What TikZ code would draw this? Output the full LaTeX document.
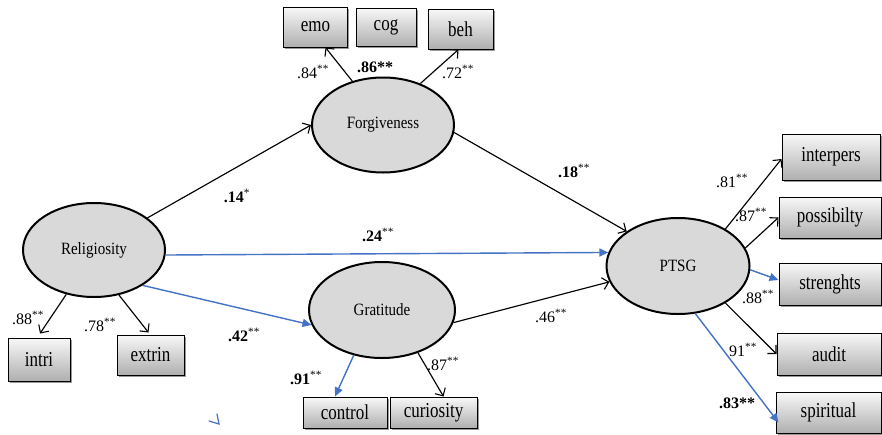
\documentclass[tikz,border=0pt]{standalone}
\usepackage{fontspec}
\usepackage{graphicx}
\setmainfont{Liberation Serif}
\usetikzlibrary{arrows.meta,shadows,shapes.geometric}
\definecolor{pathblue}{RGB}{68,114,196}
\definecolor{latfill}{RGB}{217,217,217}
\definecolor{boxtop}{RGB}{248,248,248}
\definecolor{boxbot}{RGB}{175,175,175}
\newcommand{\btxt}[1]{\scalebox{1}[1.25]{#1}}
\newcommand{\etxt}[1]{\scalebox{1}[1.15]{#1}}
\newcommand{\st}[1]{\textsuperscript{#1}}
\begin{document}
\begin{tikzpicture}[x=1pt,y=-1pt,
  latent/.style={ellipse, draw, line width=2pt, fill=latfill, inner sep=0pt,
    font=\fontsize{15}{17}\selectfont},
  obsbox/.style={rectangle, draw, line width=1pt, top color=boxtop, bottom color=boxbot,
    inner sep=0pt, drop shadow={shadow xshift=1.8pt, shadow yshift=-1.8pt, opacity=0.8},
    font=\fontsize{17}{19}\selectfont},
  blk/.style={draw=black, line width=1.15pt, -{Straight Barb[length=6pt,width=12pt,line width=1.1pt]}},
  blu/.style={draw=pathblue, line width=1.4pt, -{Triangle[length=9pt,width=8pt]}},
  lab/.style={font=\fontsize{16}{18}\selectfont, inner sep=0pt},
]
\useasboundingbox (0,0) rectangle (882,434);
\fill[white] (0,0) rectangle (882,434);

% latent variables
\node[latent, minimum width=142pt, minimum height=95pt] (forg) at (383,125) {\etxt{Forgiveness}};
\node[latent, minimum width=142pt, minimum height=94pt] (rel) at (94,250) {\etxt{Religiosity}};
\node[latent, minimum width=146pt, minimum height=96pt] (grat) at (382,310) {\etxt{Gratitude}};
\node[latent, minimum width=143pt, minimum height=96pt] (ptsg) at (678,266) {\etxt{PTSG}};

% observed indicators
\node[obsbox, minimum width=64pt, minimum height=40pt] (emo) at (315.5,27) {\btxt{emo}};
\node[obsbox, minimum width=60pt, minimum height=38pt] (cog) at (386,27) {\btxt{cog}};
\node[obsbox, minimum width=65pt, minimum height=40pt] (beh) at (460.5,29) {\btxt{beh}};
\node[obsbox, minimum width=62pt, minimum height=43pt] (intri) at (39,359.5) {\btxt{intri}};
\node[obsbox, minimum width=67pt, minimum height=40pt] (extrin) at (150.5,355) {\btxt{extrin}};
\node[obsbox, minimum width=84pt, minimum height=31pt] (control) at (345,412.5) {\btxt{control}};
\node[obsbox, minimum width=87pt, minimum height=31pt] (curio) at (433.5,412.5) {\btxt{curiosity}};
\node[obsbox, minimum width=98pt, minimum height=46pt] (inter) at (831,157) {\btxt{interpers}};
\node[obsbox, minimum width=102pt, minimum height=41pt] (possib) at (830,217.5) {\btxt{possibilty}};
\node[obsbox, minimum width=102pt, minimum height=42pt] (streng) at (830,284) {\btxt{strenghts}};
\node[obsbox, minimum width=104pt, minimum height=42pt] (audit) at (829,354) {\btxt{audit}};
\node[obsbox, minimum width=105pt, minimum height=41pt] (spirit) at (828.5,412.5) {\btxt{spiritual}};

% structural paths
\draw[blk] (rel.31) -- (forg.180);
\draw[blk] (forg.-6) -- (ptsg.146);
\draw[blu] (rel.-4) -- (ptsg.169);
\draw[blu] (rel.-36) -- (grat.192);
\draw[blk] (grat.-10) -- (ptsg.193);

% measurement paths
\draw[blk] (forg.125) -- ([xshift=10pt]emo.south);
\draw[blk] (forg.48) -- ([xshift=-2pt]beh.south);
\draw[blk] (rel.-122) -- ([xshift=1pt,yshift=4pt]intri.north);
\draw[blk] (rel.-61) -- ([xshift=-2pt,yshift=2pt]extrin.north);
\draw[blu] (grat.-122) -- ([xshift=-10pt]control.north);
\draw[blk] (grat.-50) -- ([xshift=10pt]curio.north);
\draw[blk] (ptsg.38) -- ([yshift=-2pt]inter.west);
\draw[blk] (ptsg.15) -- (possib.west);
\draw[blu] (ptsg.-3) -- ([yshift=4pt]streng.west);
\draw[blk] (ptsg.-38) -- (audit.west);
\draw[blu] (ptsg.-70) -- ([xshift=3pt,yshift=-10pt]spirit.west);

% coefficients
\node[lab] (l84) at (313,72) {.84\st{**}};
\node[lab] (l86) at (375,67) {\textbf{.86**}};
\node[lab] (l72) at (458,72) {.72\st{**}};
\node[lab] (l14) at (237,196) {\textbf{.14}\st{*}};
\node[lab] (l24) at (378,235) {\textbf{.24}\st{**}};
\node[lab] (l18) at (574,171) {\textbf{.18}\st{**}};
\node[lab] (l46) at (551,316) {.46\st{**}};
\node[lab] (l42) at (244,335) {\textbf{.42}\st{**}};
\node[lab] (l91) at (306,378) {\textbf{.91}\st{**}};
\node[lab] (l88a) at (28,318) {.88\st{**}};
\node[lab] (l78) at (100,325) {.78\st{**}};
\node[lab] (l87a) at (443,364) {.87\st{**}};
\node[lab] (l81) at (732,181) {.81\st{**}};
\node[lab] (l87b) at (751,215) {.87\st{**}};
\node[lab] (l88b) at (758,297) {.88\st{**}};
\node[lab] (l91b) at (743,350) {91\st{**}};
\node[lab] (l83) at (737,403) {\textbf{.83**}};

% stray mark
\draw[pathblue, line width=1.2pt, line cap=round] (217,414) -- (219,424) -- (209,421);
\end{tikzpicture}
\end{document}
